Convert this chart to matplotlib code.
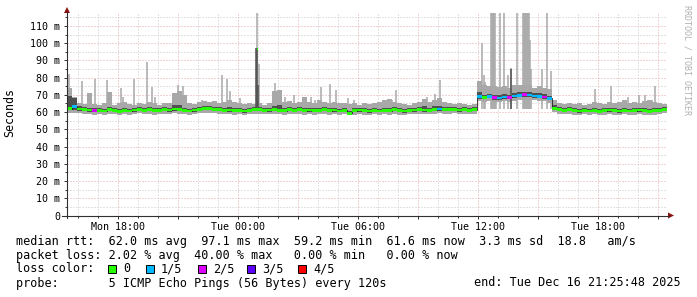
import numpy as np
import matplotlib
matplotlib.use("Agg")
import matplotlib.pyplot as plt
from matplotlib.patches import Rectangle, Polygon
from matplotlib.lines import Line2D

# time in hours since Mon 00:00, 15-minute bins from Mon 15:26 to Tue 21:26
t_start = 15.43
bin_h = 0.25

median = [
    62.0, 63.2, 61.8, 61.4, 61.2, 60.8, 61.0, 60.6, 61.3, 60.9,
    60.5, 61.0, 60.7, 61.2, 61.6, 61.0, 61.4, 60.8, 61.1, 61.5,
    61.2, 61.8, 61.3, 61.0, 60.7, 61.2, 61.6, 61.9, 62.0, 61.6,
    61.4, 61.0, 61.2, 60.8, 61.1, 60.6, 61.0, 61.3, 61.4, 61.0,
    61.2, 61.5, 61.1, 60.9, 61.3, 61.0, 61.4, 60.8, 61.2, 60.9,
    61.1, 61.4, 60.9, 61.2, 60.7, 61.0, 59.4, 60.9, 61.2, 60.8,
    60.6, 61.0, 60.7, 61.1, 60.9, 61.3, 60.8, 60.6, 61.0, 61.2,
    61.5, 61.2, 61.0, 61.4, 61.8, 61.5, 61.3, 61.6, 61.2, 61.4,
    61.0, 61.3, 69.0, 68.6, 69.2, 68.4, 68.2, 68.8, 68.5, 69.3,
    69.8, 70.2, 69.9, 69.4, 69.2, 68.8, 68.0, 62.2, 61.5, 61.0,
    61.3, 60.8, 60.6, 61.0, 60.7, 61.1, 60.5, 60.9, 61.2, 60.8,
    60.6, 61.0, 60.7, 60.9, 61.2, 60.8, 60.5, 60.9, 61.1, 61.6,
]

# lost pings out of 5 per bin
loss = [
    0, 1, 0, 0, 0, 2, 0, 0, 0, 0,
    0, 0, 0, 0, 0, 0, 0, 0, 0, 0,
    0, 0, 0, 0, 0, 0, 0, 0, 0, 0,
    0, 0, 0, 0, 0, 0, 0, 0, 0, 0,
    0, 0, 0, 0, 0, 0, 0, 0, 0, 0,
    0, 0, 0, 0, 0, 0, 0, 0, 0, 0,
    0, 0, 0, 0, 0, 0, 0, 0, 0, 0,
    0, 0, 0, 0, 1, 0, 0, 0, 0, 0,
    0, 0, 1, 0, 1, 2, 1, 1, 2, 1,
    1, 2, 1, 1, 1, 2, 1, 0, 0, 0,
    0, 0, 0, 0, 0, 0, 0, 0, 0, 0,
    0, 0, 0, 0, 0, 0, 0, 0, 0, 0,
]

# lowest ping per bin
lo = [
    59.5, 59.6, 59.2, 58.9, 58.8, 58.6, 58.8, 58.4, 59.0, 58.7,
    58.4, 58.8, 58.5, 59.0, 59.2, 58.7, 59.0, 58.5, 58.9, 59.1,
    59.0, 59.3, 59.0, 58.8, 58.5, 59.0, 59.2, 59.4, 59.5, 59.2,
    59.0, 58.7, 59.0, 58.5, 58.9, 58.4, 58.7, 59.0, 59.0, 58.7,
    59.0, 59.1, 58.8, 58.6, 59.0, 58.7, 59.0, 58.5, 59.0, 58.6,
    58.8, 59.0, 58.6, 59.0, 58.4, 58.7, 58.2, 58.6, 59.0, 58.5,
    58.4, 58.7, 58.5, 58.9, 58.6, 59.0, 58.5, 58.4, 58.7, 59.0,
    59.1, 59.0, 58.7, 59.0, 59.3, 59.1, 58.9, 59.2, 59.0, 59.0,
    58.7, 59.0, 66.4, 66.0, 66.5, 65.9, 65.8, 66.2, 66.0, 66.6,
    67.0, 67.3, 67.1, 66.8, 66.5, 66.2, 65.5, 59.8, 59.1, 58.7,
    58.9, 58.5, 58.3, 58.7, 58.4, 58.8, 58.2, 58.6, 58.9, 58.5,
    58.3, 58.7, 58.4, 58.6, 58.9, 58.5, 58.2, 58.6, 58.8, 59.2,
]

# second lowest ping per bin
dark_lo = [
    61.0, 61.5, 60.9, 60.5, 60.3, 59.9, 60.1, 59.8, 60.4, 60.0,
    59.6, 60.1, 59.8, 60.3, 60.7, 60.1, 60.5, 59.9, 60.2, 60.6,
    60.3, 60.9, 60.4, 60.1, 59.8, 60.3, 60.7, 61.0, 61.1, 60.7,
    60.5, 60.1, 60.3, 59.9, 60.2, 59.7, 60.1, 60.4, 60.5, 60.1,
    60.3, 60.6, 60.2, 60.0, 60.4, 60.1, 60.5, 59.9, 60.3, 60.0,
    60.2, 60.5, 60.0, 60.3, 59.8, 60.1, 58.8, 60.0, 60.3, 59.9,
    59.7, 60.1, 59.8, 60.2, 60.0, 60.4, 59.9, 59.7, 60.1, 60.3,
    60.6, 60.3, 60.1, 60.5, 60.9, 60.6, 60.4, 60.7, 60.3, 60.5,
    60.1, 60.4, 67.8, 67.5, 68.0, 67.3, 67.1, 67.6, 67.4, 68.1,
    68.6, 69.0, 68.7, 68.2, 68.0, 67.6, 66.9, 61.2, 60.6, 60.1,
    60.4, 59.9, 59.7, 60.1, 59.8, 60.2, 59.6, 60.0, 60.3, 59.9,
    59.7, 60.1, 59.8, 60.0, 60.3, 59.9, 59.6, 60.0, 60.2, 60.7,
]

# second highest ping per bin
dark_hi = [
    69.5, 68.0, 63.4, 62.9, 62.6, 62.2, 62.4, 62.0, 62.8, 62.2,
    61.9, 62.4, 62.0, 62.6, 63.0, 62.3, 62.9, 62.1, 62.5, 62.9,
    62.6, 64.2, 64.0, 62.5, 62.0, 62.6, 63.1, 63.5, 63.6, 63.0,
    62.8, 62.4, 62.7, 62.1, 62.5, 62.0, 62.4, 62.7, 62.8, 62.3,
    62.6, 63.8, 64.0, 62.3, 62.7, 62.3, 62.8, 62.1, 62.6, 62.2,
    62.5, 62.8, 62.2, 62.6, 62.0, 62.3, 60.8, 62.2, 62.6, 62.1,
    61.9, 62.4, 62.0, 62.5, 62.3, 63.2, 62.1, 61.9, 62.4, 62.6,
    63.2, 63.5, 62.5, 63.4, 63.8, 63.0, 62.7, 63.0, 62.6, 62.8,
    62.3, 62.7, 71.5, 70.2, 70.7, 70.0, 69.7, 70.3, 70.2, 71.0,
    71.4, 71.9, 71.5, 70.9, 70.8, 70.3, 69.6, 64.0, 63.2, 62.4,
    62.7, 62.1, 61.9, 62.4, 62.0, 62.5, 61.8, 62.2, 62.6, 62.1,
    61.9, 62.4, 62.0, 62.3, 62.6, 62.1, 61.8, 62.3, 62.5, 63.0,
]

# highest ping per bin (without the single outliers below)
hi = [
    74.0, 69.0, 65.0, 64.5, 71.0, 64.5, 64.0, 65.0, 71.5, 64.0,
    65.0, 66.0, 64.5, 64.0, 65.0, 64.5, 66.0, 65.0, 64.0, 65.5,
    65.0, 71.0, 72.0, 70.0, 65.0, 64.5, 66.0, 66.5, 66.0, 66.5,
    65.0, 66.0, 67.0, 66.0, 65.5, 64.5, 65.0, 64.5, 65.0, 64.0,
    65.0, 72.0, 73.0, 66.0, 66.5, 65.0, 66.0, 69.0, 66.0, 65.0,
    67.0, 66.0, 65.0, 66.0, 65.5, 65.0, 64.5, 65.0, 64.0, 65.0,
    64.5, 65.0, 66.0, 67.0, 67.5, 66.0, 65.0, 64.5, 64.0, 65.0,
    66.0, 67.5, 66.0, 67.0, 68.0, 66.0, 65.0, 64.5, 65.0, 64.5,
    64.0, 64.5, 78.0, 76.0, 75.0, 75.0, 74.5, 75.0, 74.0, 76.0,
    76.0, 75.5, 76.0, 74.0, 75.0, 74.0, 73.5, 67.0, 65.0, 64.5,
    65.0, 64.5, 65.0, 64.0, 64.5, 66.0, 65.0, 64.5, 66.0, 65.0,
    66.0, 67.0, 65.0, 66.0, 65.5, 66.5, 67.0, 66.0, 65.0, 64.5,
]

# single outlier pings (max ping of a 2-minute sample)
spike_t = [15.55, 16.2, 16.85, 17.45, 18.15, 18.25, 18.8, 19.45, 19.7, 19.85,
           21.0, 21.25, 22.05, 22.2, 23.2, 23.45, 23.6, 24.1, 24.95, 25.03,
           25.85, 26.35, 26.8, 27.65, 27.85, 28.15, 28.6, 28.9, 29.5, 29.8,
           31.7, 31.9, 33.25, 33.45, 33.85, 34.1, 34.65,
           36.18, 36.3, 36.35, 36.65, 36.7, 36.75, 36.8, 36.85, 36.9, 37.08,
           37.3, 37.5, 37.63, 37.95, 38.25, 38.3, 38.35, 38.4, 38.45, 38.5,
           38.55, 38.6, 38.65, 39.2, 39.45, 39.65,
           41.83, 42.65, 43.48, 44.05, 44.35, 44.7, 44.83]
spike_top = [82, 78, 79.3, 78.6, 74, 68.7, 79.3, 89.2, 74.5, 68.7,
             76, 75, 66, 67, 81.5, 79, 72, 68, 125, 88,
             77, 69, 70, 68.7, 67, 74.7, 76.5, 73, 68, 67,
             67, 73, 66, 68.7, 70.4, 78.6, 64.5,
             100, 81.5, 77.6, 125, 125, 125, 125, 125, 74, 125,
             125, 81.5, 85.5, 125, 125, 125, 125, 125, 125, 125,
             125, 102, 85, 85, 125, 84,
             73.5, 75, 69, 70, 70, 67, 75]

dark_spike_t = [24.9, 24.95, 25.0, 37.63]
dark_spike_top = [97, 97, 76, 85]
peak_t = [24.95]
peak_median = [96.6]

loss_colors = ['#26ff00', '#00b8ff', '#dd00ff', '#5e00ff', '#ff0000']
loss_names = ['0', '1/5', '2/5', '3/5', '4/5']

x_major = [18, 21, 24, 27, 30, 33, 36, 39, 42, 45]
x_labels = {18: 'Mon 18:00', 24: 'Tue 00:00', 30: 'Tue 06:00',
            36: 'Tue 12:00', 42: 'Tue 18:00'}
y_major = list(range(0, 111, 10))
y_labels = ['0'] + ['%d m' % v for v in y_major[1:]]

W, H = 697, 297
MONO = 'DejaVu Sans Mono'
LIGHT = '#a8a8a8'
DARK = '#505050'
GRID = '#c8c8c8'
MGRID = '#e6a8a8'
AXIS = '#303030'
ARROW = '#8b1010'


def fx(px):
    return px / W


def fy(py):
    return 1 - py / H


fig = plt.figure(figsize=(W / 100, H / 100), dpi=100)
fig.patch.set_facecolor('white')
ax = fig.add_axes([fx(67), fy(215.5), fx(667) - fx(67), fy(13) - fy(215.5)])
ax.set_xlim(t_start, t_start + bin_h * len(median))
ax.set_ylim(0, 117.5)

edges = t_start + bin_h * np.arange(len(median) + 1)


def ext(a):
    return np.append(a, a[-1])


ax.fill_between(edges, ext(lo), ext(hi), step='post', color=LIGHT, lw=0, zorder=2)
ax.vlines(spike_t, 62, spike_top, color=LIGHT, lw=1.1, zorder=2)
ax.fill_between(edges, ext(dark_lo), ext(dark_hi), step='post', color=DARK, lw=0, zorder=3)
ax.vlines(dark_spike_t, 62, dark_spike_top, color=DARK, lw=1.1, zorder=3)
ax.step(edges, ext(median), where='post', color='#202020', lw=0.6, zorder=4)

xs = np.repeat(edges, 2)[1:-1]
med2 = np.repeat(median, 2)
loss2 = np.repeat(loss, 2)
for k, c in enumerate(loss_colors):
    m = loss2 == k
    if m.any():
        ax.fill_between(xs, med2 - 0.8, med2 + 0.8, where=m, color=c, lw=0, zorder=5)
ax.hlines(peak_median, np.array(peak_t) - 0.04, np.array(peak_t) + 0.04,
          color=loss_colors[0], lw=1.6, zorder=5)

# grid
ax.set_xticks(x_major)
ax.set_xticklabels([x_labels.get(v, '') for v in x_major])
ax.set_xticks(np.arange(16, 46, 1), minor=True)
ax.set_yticks(y_major)
ax.set_yticklabels(y_labels)
ax.set_yticks(np.arange(5, 117, 10), minor=True)
dots = (0, (1, 2))
ax.grid(which='minor', color=GRID, lw=0.72, linestyle=dots, zorder=1)
ax.grid(which='major', color=MGRID, lw=0.72, linestyle=dots, zorder=1)
ax.set_axisbelow(True)
ax.tick_params(which='major', length=2.2, width=0.7, color=AXIS, pad=2.6,
               labelsize=7.2, labelfontfamily=MONO)
ax.tick_params(which='minor', length=1.2, width=0.7, color=AXIS)
for s in ax.spines.values():
    s.set_visible(False)

# axes with arrows (rrdtool style)
fig.add_artist(Line2D([fx(62), fx(669)], [fy(215.5), fy(215.5)], color=AXIS, lw=0.8))
fig.add_artist(Line2D([fx(67), fx(67)], [fy(218), fy(12)], color=AXIS, lw=0.8))
fig.add_artist(Polygon([[fx(668), fy(212.5)], [fx(674), fy(215.5)], [fx(668), fy(218.5)]],
                       closed=True, color=ARROW, lw=0, transform=fig.transFigure))
fig.add_artist(Polygon([[fx(64), fy(13)], [fx(67), fy(7)], [fx(70), fy(13)]],
                       closed=True, color=ARROW, lw=0, transform=fig.transFigure))

fig.text(fx(10), fy(113), 'Seconds', rotation=90, ha='center', va='center',
         fontsize=8.4, family=MONO)
fig.text(fx(687), fy(60), 'RRDTOOL / TOBI OETIKER', rotation=270, ha='center',
         va='center', fontsize=6.0, family=MONO, color='#b0b0b0')

# legend
LS = 8.5
fig.text(fx(16), fy(241),
         'median rtt:  62.0 ms avg  97.1 ms max  59.2 ms min  61.6 ms now  3.3 ms sd  18.8   am/s',
         ha='left', va='center', fontsize=LS, family=MONO)
fig.text(fx(16), fy(255),
         'packet loss: 2.02 % avg  40.00 % max   0.00 % min   0.00 % now',
         ha='left', va='center', fontsize=LS, family=MONO)
fig.text(fx(16), fy(269), 'loss color:', ha='left', va='center', fontsize=LS, family=MONO)
box_x = [108, 146, 198, 247, 298]
for bx, c, name in zip(box_x, loss_colors, loss_names):
    fig.add_artist(Rectangle((fx(bx), fy(273)), fx(8), 8 / H, facecolor=c,
                             edgecolor='black', lw=0.7, transform=fig.transFigure))
    fig.text(fx(bx + 15), fy(269), name, ha='left', va='center', fontsize=LS, family=MONO)
fig.text(fx(16), fy(283), 'probe:       5 ICMP Echo Pings (56 Bytes) every 120s',
         ha='left', va='center', fontsize=LS, family=MONO)
fig.text(fx(681), fy(283), 'end: Tue Dec 16 21:25:48 2025',
         ha='right', va='center', fontsize=LS, family=MONO)

fig.savefig('out.png', dpi=100, facecolor='white')
